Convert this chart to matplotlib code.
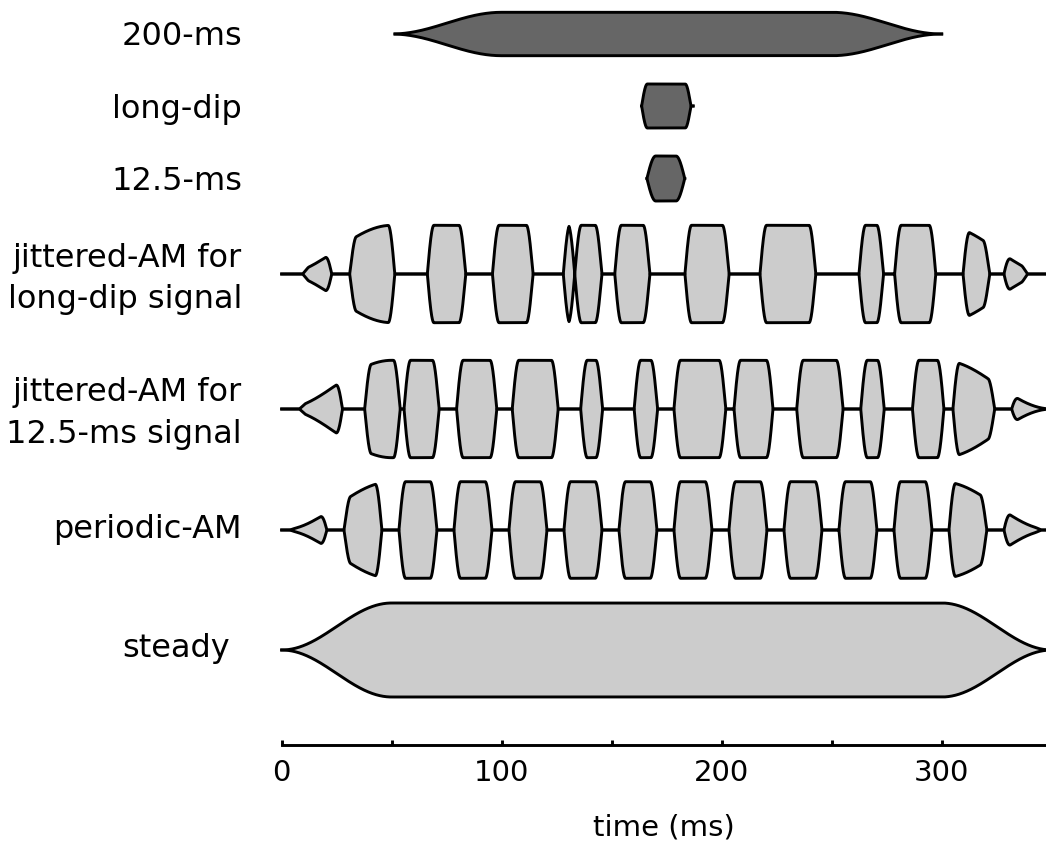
import numpy as np
import matplotlib.pyplot as plt

# timing, all in ms
masker_ramp = [0, 50, 300, 350]          # raised-cosine on / full / off start / end
sig200_ramp = [50, 100, 250, 300]
long_dip = [163.6, 186.0]
short_sig = [166.0, 183.2]

jit_long_start = [9.5, 30.9, 66.2, 95.8, 128.0, 133.2, 151.4, 183.3, 217.4, 262.4, 278.6, 309.7, 328.3]
jit_long_end = [22.7, 51.4, 83.6, 114.2, 133.2, 145.5, 167.3, 203.3, 242.7, 273.5, 297.3, 321.8, 339.0]

jit_short_start = [8.0, 37.7, 55.6, 79.5, 104.8, 135.9, 160.2, 178.3, 205.6, 234.1, 263.2, 286.7, 305.1, 331.8]
jit_short_end = [27.6, 53.8, 71.5, 97.7, 125.6, 145.8, 170.8, 201.8, 223.3, 255.1, 273.8, 301.0, 324.1, 352.0]

periodic_start = [3.3, 28.3, 53.3, 78.3, 103.3, 128.3, 153.3, 178.3, 203.3, 228.3, 253.3, 278.3, 303.3, 328.3]
periodic_end = [20.5, 45.5, 70.5, 95.5, 120.5, 145.5, 170.5, 195.5, 220.5, 245.5, 270.5, 295.5, 320.5, 345.5]

row_labels = ['200-ms', 'long-dip', '12.5-ms', 'jittered-AM for\nlong-dip signal',
              'jittered-AM for\n12.5-ms signal', 'periodic-AM', 'steady']
tick_pos = [0, 50, 100, 150, 200, 250, 300]
tick_labels = ['0', '', '100', '', '200', '', '300']

DARK = '#666666'
LIGHT = '#cccccc'
LW = 2.1


def cos_gate(t, a, b, c, d):
    g = np.zeros_like(t)
    m = (t >= a) & (t < b)
    g[m] = 0.5 * (1 - np.cos(np.pi * (t[m] - a) / (b - a)))
    g[(t >= b) & (t <= c)] = 1.0
    m = (t > c) & (t <= d)
    g[m] = 0.5 * (1 + np.cos(np.pi * (t[m] - c) / (d - c)))
    return g


def burst(t, on, off, r):
    up = np.clip((t - on) / r, 0, 1)
    down = np.clip((off - t) / r, 0, 1)
    return np.sin(np.pi / 2 * np.minimum(up, down))


def bursts(t, starts, ends, r=3.0):
    g = np.zeros_like(t)
    for s, e in zip(starts, ends):
        g = np.maximum(g, burst(t, s, e, r))
    return g


def draw(ax, t, env, yc, h, color):
    ax.fill_between(t, yc - h * env, yc + h * env, facecolor=color, linewidth=0)
    ax.plot(t, yc + h * env, color='k', lw=LW, solid_joinstyle='round', clip_on=False)
    ax.plot(t, yc - h * env, color='k', lw=LW, solid_joinstyle='round', clip_on=False)


fig = plt.figure(figsize=(10.46, 8.48), dpi=100)
ax = fig.add_axes([281.7 / 1046, 103 / 848, 764.3 / 1046, 745 / 848])
ax.set_xlim(0, 764.3 / 2.2)
ax.set_ylim(745, 0)   # pixel rows, top down

t = np.linspace(0, 348, 30000)
masker = cos_gate(t, *masker_ramp)

# signals (dark)
ts = np.linspace(51.5, 300, 6000)
draw(ax, ts, cos_gate(ts, *sig200_ramp), 34, 21.7, DARK)
ts = np.linspace(long_dip[0], long_dip[1] + 1.0, 3000)
draw(ax, ts, burst(ts, long_dip[0], long_dip[1], 2.6), 106, 22, DARK)
ts = np.linspace(short_sig[0], short_sig[1], 3000)
draw(ax, ts, burst(ts, short_sig[0], short_sig[1], 4.0), 178.5, 22.5, DARK)

# maskers (light)
draw(ax, t, masker * bursts(t, jit_long_start, jit_long_end), 274, 48.7, LIGHT)
draw(ax, t, masker * bursts(t, jit_short_start, jit_short_end), 409, 48.7, LIGHT)
draw(ax, t, masker * bursts(t, periodic_start, periodic_end), 530, 48.3, LIGHT)
draw(ax, t, masker, 650, 47, LIGHT)

# row labels, baseline (of last line) in pixels
label_y = [45, 118.3, 190, 308.3, 443.3, 538.3, 656.7]
label_x = [-18, -18, -18, -18, -18, -18, -23.5]
for name, x, y in zip(row_labels, label_x, label_y):
    ax.text(x, y, name, ha='right', va='baseline', multialignment='right',
            fontsize=23, linespacing=1.45, clip_on=False)

for s in ['top', 'left', 'right']:
    ax.spines[s].set_visible(False)
ax.spines['bottom'].set_linewidth(LW)
ax.set_yticks([])
ax.set_xticks(tick_pos)
ax.set_xticklabels(tick_labels, fontsize=21)
ax.tick_params(axis='x', direction='in', length=3.6, width=LW, pad=10)
ax.set_xlabel('time (ms)', fontsize=21)
ax.xaxis.set_label_coords(0.5, -0.092)

fig.savefig('out.png', dpi=100)
